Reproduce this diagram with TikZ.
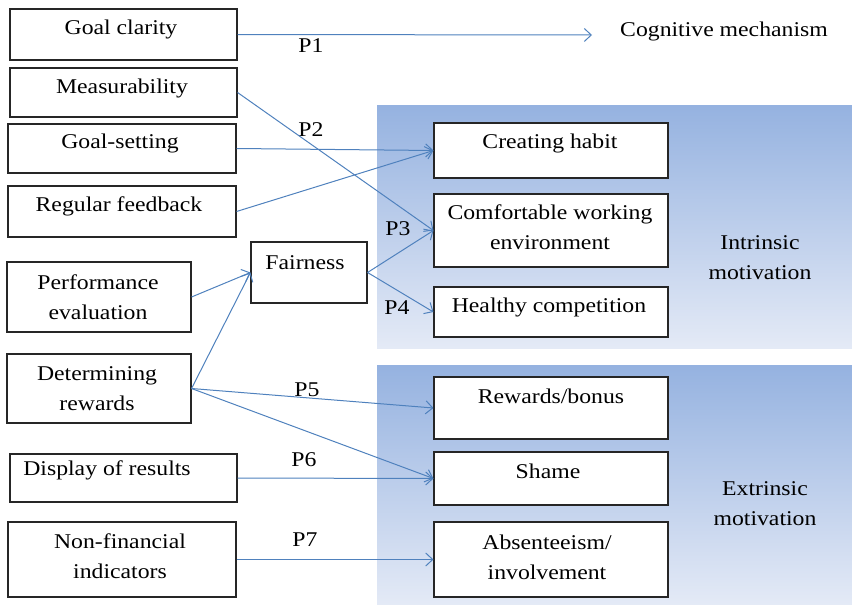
\documentclass[tikz,border=0pt]{standalone}
\usepackage{fontspec}
\setmainfont{Liberation Serif}[FakeStretch=1.13]
\usetikzlibrary{arrows.meta}
\definecolor{arrowblue}{RGB}{79,129,189}
\definecolor{paneltop}{RGB}{149,178,224}
\definecolor{panelbot}{RGB}{228,234,246}
\tikzset{
  box/.style={draw=black!85, line width=1.1pt, fill=white, inner sep=0pt},
  lbl/.style={inner sep=0pt, align=center, font=\fontsize{21}{30}\selectfont},
  conn/.style={draw=arrowblue, line width=1pt, -{Straight Barb[length=7pt,width=13pt,line width=1pt]}},
  panel/.style={top color=paneltop, bottom color=panelbot, draw=none},
}
\begin{document}
\begin{tikzpicture}[x=1pt,y=-1pt]
\useasboundingbox (0,0) rectangle (852,605);
% panels
\path[panel] (377,105) rectangle (852,348);
\path[panel] (377,365) rectangle (852,605);
% left boxes
\node[box, minimum width=227pt, minimum height=51pt] (gc) at (123.5,34.5) {};
\node[box, minimum width=227pt, minimum height=49pt] (me) at (123.5,92.5) {};
\node[box, minimum width=228pt, minimum height=49pt] (gs) at (122,148.5) {};
\node[box, minimum width=228pt, minimum height=51pt] (rf) at (122,211.5) {};
\node[box, minimum width=184pt, minimum height=70pt] (pe) at (99,297) {};
\node[box, minimum width=184pt, minimum height=69pt] (dr) at (99,388.5) {};
\node[box, minimum width=227pt, minimum height=48pt] (dp) at (123.5,478) {};
\node[box, minimum width=228pt, minimum height=75pt] (nf) at (122,559.5) {};
\node[box, minimum width=116pt, minimum height=61pt] (fa) at (309,272.5) {};
% right boxes
\node[box, minimum width=234pt, minimum height=55pt] (ch) at (551,150.5) {};
\node[box, minimum width=234pt, minimum height=73pt] (cw) at (551,230.5) {};
\node[box, minimum width=234pt, minimum height=50pt] (hc) at (551,312) {};
\node[box, minimum width=234pt, minimum height=62pt] (rb) at (551,408) {};
\node[box, minimum width=234pt, minimum height=53pt] (sh) at (551,478.5) {};
\node[box, minimum width=234pt, minimum height=75pt] (ab) at (551,559.5) {};
% texts
\node[lbl] (gct) at (121,29) {Goal clarity};
\node[lbl] (met) at (122,88) {Measurability};
\node[lbl] (gst) at (120,143) {Goal-setting};
\node[lbl] (rft) at (119,206) {Regular feedback};
\node[lbl] (pet) at (98,297.5) {Performance\\evaluation};
\node[lbl] (drt) at (97,389) {Determining\\rewards};
\node[lbl] (dpt) at (107,470) {Display of results};
\node[lbl] (nft) at (120,556.5) {Non-financial\\indicators};
\node[lbl] (fat) at (305,263) {Fairness};
\node[lbl] (cht) at (550,143) {Creating habit};
\node[lbl] (cwt) at (550,227.5) {Comfortable working\\environment};
\node[lbl] (hct) at (549,307) {Healthy competition};
\node[lbl] (rbt) at (551,396) {Rewards/bonus};
\node[lbl] (sht) at (548,471) {Shame};
\node[lbl] (abt) at (547,557.5) {Absenteeism/\\involvement};
\node[lbl] (imt) at (760,258) {Intrinsic\\motivation};
\node[lbl] (emt) at (765,504) {Extrinsic\\motivation};
\node[lbl] (cog) at (724,31) {Cognitive mechanism};
% P labels
\node[lbl] (p1) at (311,46) {P1};
\node[lbl] (p2) at (311,130) {P2};
\node[lbl] (p3) at (398,229) {P3};
\node[lbl] (p4) at (397,308) {P4};
\node[lbl] (p5) at (307,390) {P5};
\node[lbl] (p6) at (304,460) {P6};
\node[lbl] (p7) at (305,540) {P7};
% connectors
\coordinate (cogend) at (592,35);
\draw[conn] (gc.east) -- (cogend);
\draw[conn] (me.east) -- (cw.west);
\draw[conn] (gs.east) -- (ch.west);
\draw[conn] (rf.east) -- (ch.west);
\draw[conn] (pe.east) -- (fa.west);
\draw[conn] (dr.east) -- (fa.west);
\draw[conn] (fa.east) -- (cw.west);
\draw[conn] (fa.east) -- (hc.west);
\draw[conn] (dr.east) -- (rb.west);
\draw[conn] (dr.east) -- (sh.west);
\draw[conn] (dp.east) -- (sh.west);
\draw[conn] (nf.east) -- (ab.west);
\end{tikzpicture}
\end{document}
